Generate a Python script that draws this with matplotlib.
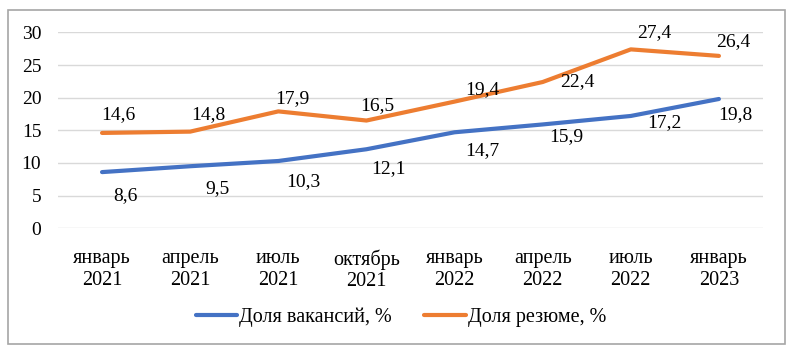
import matplotlib.pyplot as plt
from matplotlib.patches import Rectangle

# данные
periods = ["январь\n2021", "апрель\n2021", "июль\n2021", "октябрь\n2021",
           "январь\n2022", "апрель\n2022", "июль\n2022", "январь\n2023"]
vacancies = [8.6, 9.5, 10.3, 12.1, 14.7, 15.9, 17.2, 19.8]
resumes = [14.6, 14.8, 17.9, 16.5, 19.4, 22.4, 27.4, 26.4]

# смещения подписей (в пунктах), подобраны по картинке
vac_offsets = [(17, -17), (20, -16), (18, -15), (16, -14), (20, -13), (17, -9), (24, -5), (12, -11)]
res_offsets = [(12, 13), (13, 12), (10, 9), (8, 11), (20, 9), (25, 0), (17, 12), (10, 10)]

plt.rcParams['font.family'] = ['Liberation Serif', 'DejaVu Serif']

fig = plt.figure(figsize=(7.91, 3.6), dpi=100)
ax = fig.add_axes([0.0733, 0.366, 0.8913, 0.544])

# рамка вокруг всей диаграммы
fig.patches.append(Rectangle((8 / 791, 1 - 344 / 360), 777 / 791, 334 / 360,
                             transform=fig.transFigure, fill=False,
                             edgecolor="#a6a6a6", linewidth=1.2))

x = list(range(len(periods)))
ax.plot(x, vacancies, color="#4472C4", linewidth=3, solid_capstyle="round",
        label="Доля вакансий, %", zorder=3)
ax.plot(x, resumes, color="#ED7D31", linewidth=3, solid_capstyle="round",
        label="Доля резюме, %", zorder=3)

for i, v in enumerate(vacancies):
    ax.annotate(str(v).replace(".", ","), (i, v), xytext=vac_offsets[i],
                textcoords="offset points", ha="center", va="center", fontsize=14)
for i, v in enumerate(resumes):
    ax.annotate(str(v).replace(".", ","), (i, v), xytext=res_offsets[i],
                textcoords="offset points", ha="center", va="center", fontsize=14)

ax.set_xlim(-0.5, len(periods) - 0.5)
ax.set_ylim(0, 30)
ax.set_yticks(range(0, 31, 5))
ax.set_xticks(x)
ax.set_xticklabels(periods, fontsize=14.5, linespacing=1.2)
ax.tick_params(axis="y", labelsize=14, length=0, pad=12)
ax.tick_params(axis="x", length=0, pad=15)
ax.grid(axis="y", color="#d9d9d9", linewidth=1)
ax.set_axisbelow(True)
for s in ax.spines.values():
    s.set_visible(False)

fig.legend(loc="center", bbox_to_anchor=(0.507, 1 - 317 / 360), ncol=2, frameon=False,
           fontsize=14.5, handlelength=2.05, handletextpad=0.1, columnspacing=1.6)

fig.savefig("out.png", dpi=100)
